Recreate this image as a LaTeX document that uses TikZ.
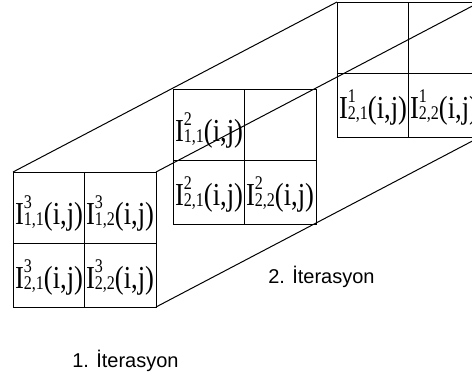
\documentclass[tikz,border=0pt]{standalone}
\usepackage{fontspec}
\setmainfont{Liberation Sans}
\newfontfamily\cellfont[FakeStretch=0.83]{Liberation Serif}
\usetikzlibrary{calc, positioning}

% pixel value I^k_{m,n}(i,j), set upright and narrow
\newcommand{\pixI}[2]{{\cellfont\fontsize{24}{26}\selectfont I\rlap{\raisebox{0.5em}{\fontsize{14.5}{14}\selectfont #1}}\raisebox{-0.05em}{\fontsize{14.5}{14}\selectfont #2}(i,j)}}

\tikzset{
    gridFrame/.style={draw, line width=0.75pt, inner sep=0pt, outer sep=0pt,
        minimum width=107.25pt, minimum height=101.25pt, anchor=north west},
    gridLine/.style={line width=0.75pt},
    edgeLine/.style={line width=0.75pt},
    pixLabel/.style={anchor=base, inner sep=0pt},
    iterLabel/.style={anchor=base west, inner sep=0pt, font=\fontsize{15}{18}\selectfont},
}

\begin{document}
\begin{tikzpicture}[x=0.75pt, y=-0.75pt]

    \useasboundingbox (0,0) rectangle (472,376);
    \clip (0,0) rectangle (472,376);

    % FRONT GRID
    \node[gridFrame] (G3) at (13,172) {};
    \draw[gridLine] (G3.north) -- (G3.south);
    \draw[gridLine] ($(G3.north west)+(0,71)$) -- ($(G3.north east)+(0,71)$);
    \node[pixLabel] (p311) at ($(G3.north west)+(36,52)$) {\pixI{3}{1,1}};
    \node[pixLabel] (p312) at ($(G3.north west)+(107,52)$) {\pixI{3}{1,2}};
    \node[pixLabel] (p321) at ($(G3.north west)+(36,116)$) {\pixI{3}{2,1}};
    \node[pixLabel] (p322) at ($(G3.north west)+(107,116)$) {\pixI{3}{2,2}};

    % MIDDLE GRID
    \node[gridFrame] (G2) at (173,89) {};
    \draw[gridLine] (G2.north) -- (G2.south);
    \draw[gridLine] ($(G2.north west)+(0,71)$) -- ($(G2.north east)+(0,71)$);
    \node[pixLabel] (p211) at ($(G2.north west)+(36,52)$) {\pixI{2}{1,1}};
    \node[pixLabel] (p221) at ($(G2.north west)+(36,116)$) {\pixI{2}{2,1}};
    \node[pixLabel] (p222) at ($(G2.north west)+(107,116)$) {\pixI{2}{2,2}};

    % BACK GRID
    \node[gridFrame] (G1) at (337,2) {};
    \draw[gridLine] (G1.north) -- (G1.south);
    \draw[gridLine] ($(G1.north west)+(0,71)$) -- ($(G1.north east)+(0,71)$);
    \node[pixLabel] (p121) at ($(G1.north west)+(36,116)$) {\pixI{1}{2,1}};
    \node[pixLabel] (p122) at ($(G1.north west)+(107,116)$) {\pixI{1}{2,2}};

    % BOX EDGES
    \draw[edgeLine] (G3.north west) -- (G1.north west);
    \draw[edgeLine] (G3.north east) -- (G1.north east);
    \draw[edgeLine] (G3.south east) -- (G1.south east);

    % ITERATION LABELS
    \node[iterLabel] (it1) at (72,367) {1. İterasyon};
    \node[iterLabel] (it2) at (268,283) {2. İterasyon};

\end{tikzpicture}
\end{document}
